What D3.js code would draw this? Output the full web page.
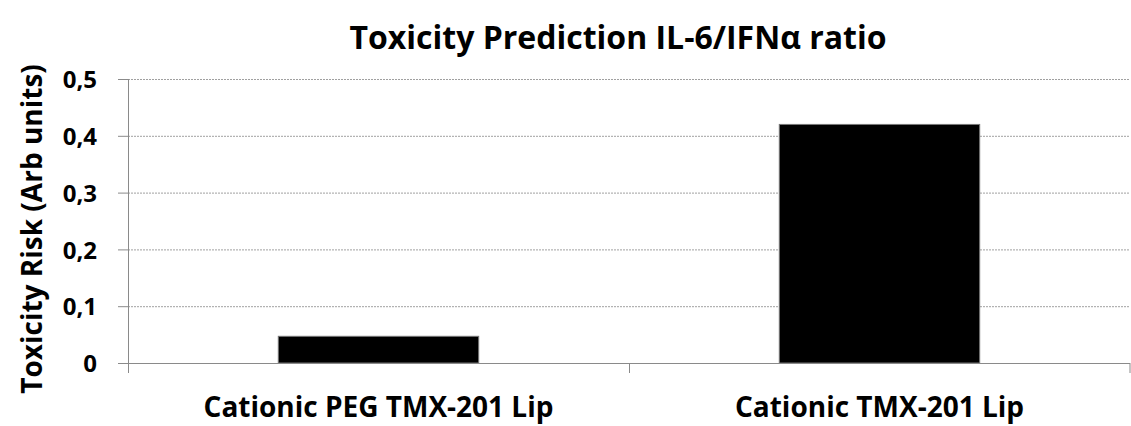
<!DOCTYPE html>
<html>
<head>
<meta charset="utf-8">
<script src="https://cdn.jsdelivr.net/npm/d3@7"></script>
<style>
  html, body { margin: 0; padding: 0; background: #fff; }
  svg { display: block; }
  text { font-family: "Open Sans", "DejaVu Sans", sans-serif; font-weight: bold; fill: #000; }
</style>
</head>
<body>
<svg id="chart" width="1131" height="426"></svg>
<script>
// Data
const categories = ["Cationic PEG TMX-201 Lip", "Cationic TMX-201 Lip"];
const values = [0.047, 0.42];
const yTicks = [0, 0.1, 0.2, 0.3, 0.4, 0.5];
const yTickLabels = ["0", "0,1", "0,2", "0,3", "0,4", "0,5"];
const titleText = "Toxicity Prediction IL-6/IFN\u03B1 ratio";
const yTitleText = "Toxicity Risk (Arb units)";

const svg = d3.select("#chart");
const W = 1131, H = 426;
const margin = { left: 128, right: 1, top: 79, bottom: 63 };
const plotW = W - margin.left - margin.right;
const plotH = H - margin.top - margin.bottom;

const x = d3.scaleBand().domain(categories).range([0, plotW])
  .paddingInner(0.6).paddingOuter(0.3);
const xOuter = d3.scaleBand().domain(categories).range([0, plotW]).padding(0);
const y = d3.scaleLinear().domain([0, 0.5]).range([plotH, 0]);

const g = svg.append("g").attr("transform", `translate(${margin.left},${margin.top})`);

// Horizontal gridlines
g.append("g").selectAll("line").data(yTicks.filter(d => d > 0)).join("line")
  .attr("x1", 0).attr("x2", plotW)
  .attr("y1", d => y(d) + 0.5).attr("y2", d => y(d) + 0.5)
  .attr("stroke", "#a0a0a0").attr("stroke-width", 1)
  .attr("stroke-dasharray", "2,1");

// Y axis
const yAxis = d3.axisLeft(y).tickValues(yTicks)
  .tickFormat((d, i) => yTickLabels[i]).tickSize(10).tickPadding(21);
const ya = g.append("g").call(yAxis);
ya.select(".domain").remove();
ya.selectAll(".tick line").attr("stroke", "#8a8a8a");
ya.selectAll(".tick text").attr("font-size", 24).attr("dy", "0.36em")
  .style("font-family", "'Open Sans', sans-serif").style("font-weight", "bold");
g.append("line").attr("x1", 0.5).attr("x2", 0.5).attr("y1", 0).attr("y2", plotH + 10)
  .attr("stroke", "#8a8a8a");

// Bars
g.append("g").selectAll("rect").data(values).join("rect")
  .attr("x", (d, i) => x(categories[i]))
  .attr("width", x.bandwidth())
  .attr("y", d => y(d))
  .attr("height", d => plotH - y(d))
  .attr("fill", "#000")
  .attr("stroke", "#777").attr("stroke-width", 1);

// X axis baseline and category boundary ticks
g.append("line").attr("x1", 0).attr("x2", plotW)
  .attr("y1", plotH + 0.5).attr("y2", plotH + 0.5).attr("stroke", "#8a8a8a");
const bounds = [0, ...categories.map(c => xOuter(c) + xOuter.bandwidth())];
g.append("g").selectAll("line").data(bounds).join("line")
  .attr("x1", d => Math.min(d, plotW - 0.5) + 0.5).attr("x2", d => Math.min(d, plotW - 0.5) + 0.5)
  .attr("y1", plotH).attr("y2", plotH + 10).attr("stroke", "#8a8a8a");

// Category labels
g.append("g").selectAll("text").data(categories).join("text")
  .attr("x", d => x(d) + x.bandwidth() / 2)
  .attr("y", plotH + 54)
  .attr("text-anchor", "middle")
  .attr("font-size", 28)
  .text(d => d);

// Title
svg.append("text").attr("x", 618).attr("y", 49)
  .attr("text-anchor", "middle").attr("font-size", 32)
  .text(titleText);

// Y axis title
svg.append("text")
  .attr("transform", `translate(42, ${margin.top + plotH / 2 + 8}) rotate(-90)`)
  .attr("text-anchor", "middle").attr("font-size", 28)
  .text(yTitleText);
</script>
</body>
</html>
